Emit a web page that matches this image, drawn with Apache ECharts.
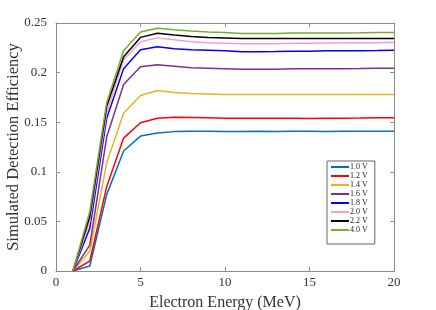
<!DOCTYPE html>
<html><head><meta charset="utf-8">
<script src="https://cdn.jsdelivr.net/npm/echarts@6/dist/echarts.min.js"></script>
<style>html,body{margin:0;padding:0;background:#fff}#c{width:436px;height:310px}</style>
</head><body><div id="c"></div>
<script>
const energies = [1,2,3,4,5,6,7,8,9,10,11,12,13,14,15,16,17,18,19,20];
const names = ['1.0 V','1.2 V','1.4 V','1.6 V','1.8 V','2.0 V','2.2 V','4.0 V'];
const colors = ['#0072BD','#FF0000','#EDB120','#7E2F8E','#0000FF','#FF99CC','#000000','#77AC30'];
const v10 = [0,0.005,0.077,0.121,0.136,0.139,0.1405,0.141,0.141,0.1405,0.1405,0.141,0.1405,0.141,0.141,0.1405,0.141,0.141,0.141,0.141];
const v12 = [0,0.010,0.085,0.134,0.1495,0.154,0.155,0.1548,0.1545,0.154,0.154,0.154,0.154,0.154,0.1538,0.154,0.154,0.1542,0.1545,0.1545];
const v14 = [0,0.020,0.109,0.159,0.177,0.182,0.180,0.179,0.1785,0.178,0.178,0.178,0.178,0.178,0.178,0.178,0.178,0.178,0.178,0.1778];
const v16 = [0,0.026,0.135,0.188,0.206,0.208,0.2065,0.205,0.2045,0.204,0.2035,0.2035,0.2035,0.2038,0.204,0.204,0.204,0.2042,0.2045,0.2045];
const v18 = [0,0.043,0.154,0.204,0.223,0.226,0.224,0.223,0.2225,0.222,0.221,0.221,0.2212,0.2215,0.2215,0.222,0.222,0.222,0.2222,0.2225];
const v20 = [0,0.050,0.160,0.213,0.231,0.235,0.233,0.231,0.230,0.2295,0.229,0.229,0.2292,0.2295,0.2295,0.2298,0.230,0.230,0.2302,0.2305];
const v22 = [0,0.055,0.166,0.216,0.2355,0.2396,0.238,0.2365,0.2355,0.235,0.2345,0.2345,0.2345,0.2345,0.2345,0.2345,0.2345,0.2345,0.2345,0.2345];
const v40 = [0,0.060,0.170,0.222,0.241,0.2446,0.2432,0.242,0.241,0.2405,0.2395,0.2395,0.2395,0.2398,0.240,0.240,0.240,0.2402,0.2405,0.2405];
const allVals = [v10,v12,v14,v16,v18,v20,v22,v40];
const xTicks = [0,5,10,15,20];
const yTicks = [0,0.05,0.1,0.15,0.2,0.25];

const font = 'Liberation Serif';
const axisCol = '#8c8c8c';
const chart = echarts.init(document.getElementById('c'));
const series = names.map((n,i)=>({
  name:n, type:'line', showSymbol:false, symbol:'none',
  data: energies.map((e,j)=>[e, allVals[i][j]]),
  lineStyle:{color:colors[i], width:1.5}, itemStyle:{color:colors[i]},
  z: 2
}));
const baseAxis = {
  axisLine:{show:true, onZero:false, lineStyle:{color:axisCol, width:1}},
  axisTick:{show:true, inside:true, length:4, lineStyle:{color:axisCol}},
  splitLine:{show:false},
  nameMoveOverlap:false
};
chart.setOption({
  animation:false,
  backgroundColor:'#fff',
  grid:{left:56, right:42, top:23, bottom:39, containLabel:false, outerBoundsMode:'none'},
  legend:{
    orient:'vertical', left:327, top:161,
    data:names,
    icon:'rect', itemWidth:18, itemHeight:2, itemGap:1,
    borderColor:'#666', borderWidth:1, padding:[2,7,10,4],
    backgroundColor:'#fff',
    textStyle:{fontFamily:font, fontSize:8, color:'#222', lineHeight:8, padding:[0,0,0,-4]}
  },
  xAxis:[
    Object.assign({}, baseAxis, {
      type:'value', min:0, max:20, interval:5, position:'bottom',
      name:'Electron Energy (MeV)', nameLocation:'middle', nameGap:24,
      nameTextStyle:{fontFamily:font, fontSize:16, color:'#333'},
      axisLabel:{fontFamily:font, fontSize:13, color:'#333', margin:5,
        formatter:v=>String(xTicks.includes(v)?v:'')}
    }),
    Object.assign({}, baseAxis, {
      type:'value', min:0, max:20, interval:5, position:'top',
      axisLabel:{show:false}
    })
  ],
  yAxis:[
    Object.assign({}, baseAxis, {
      type:'value', min:0, max:0.25, interval:0.05, position:'left',
      name:'Simulated Detection Efficiency', nameLocation:'middle', nameGap:34,
      nameTextStyle:{fontFamily:font, fontSize:16.5, color:'#333'},
      axisLabel:{fontFamily:font, fontSize:13, color:'#333', margin:9,
        formatter:v=>String(Math.round(v*100)/100)}
    }),
    Object.assign({}, baseAxis, {
      type:'value', min:0, max:0.25, interval:0.05, position:'right',
      axisLabel:{show:false}
    })
  ],
  series: series
});
</script></body></html>
